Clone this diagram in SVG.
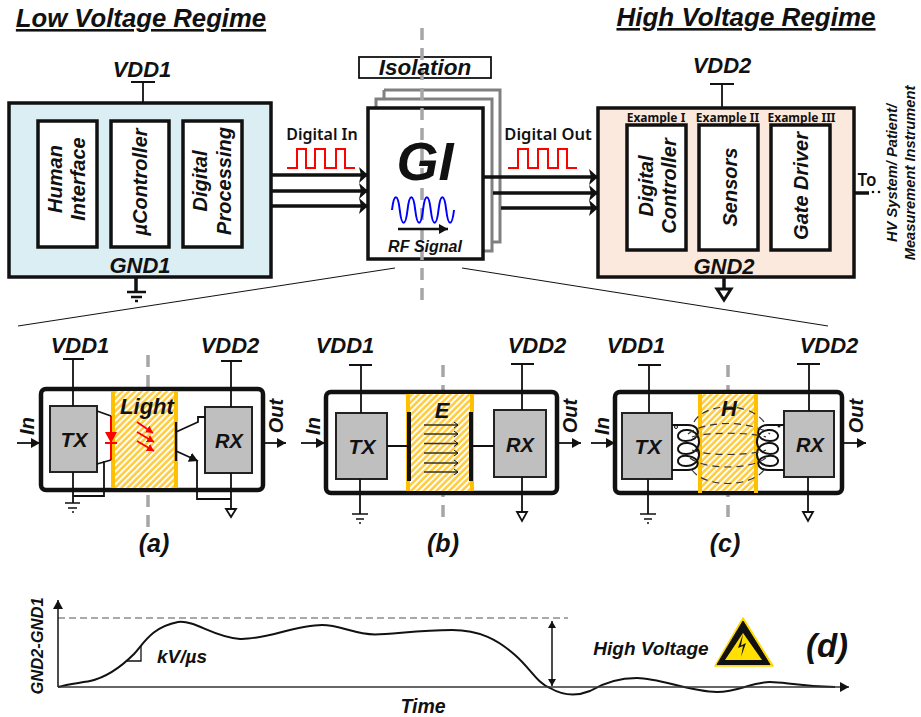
<svg xmlns="http://www.w3.org/2000/svg" width="921" height="717" viewBox="0 0 921 717">
<style>
text{font-family:"Liberation Sans",Arial,sans-serif;font-weight:700;font-style:italic;fill:#111;text-anchor:middle}
.cal{font-family:"Noto Sans","Open Sans",sans-serif;font-weight:600;font-style:normal}
.l{font-size:22px}.box{fill:#fff;stroke:#111;stroke-width:3.5}
.in{font-size:20px}.chip{fill:#bfbfbf;stroke:#222;stroke-width:2}
.mod{fill:#fff;stroke:#111;stroke-width:4.5}
.w{fill:none;stroke:#111;stroke-width:1.8}.t{fill:none;stroke:#111;stroke-width:3.5}
.g{fill:none;stroke:#808080;stroke-width:3}
.d{fill:none;stroke:#a6a6a6;stroke-width:3.5;stroke-dasharray:12 8}
.p{fill:none;stroke:#f00;stroke-width:2}
.o{fill:#fff;stroke:#111;stroke-width:1.8}
.ex{font-size:12px;font-weight:700}
.h{fill:none;stroke:#ffc000;stroke-width:4}
.e{fill:none;stroke:#332;stroke-width:1.300;marker-end:url(#open)}
.ra{fill:none;stroke:#f00;stroke-width:1.800;marker-end:url(#red)}
</style>
<defs>
<pattern id="hatch" width="4.500" height="4.500" patternUnits="userSpaceOnUse" patternTransform="rotate(-45)">
<rect width="4.500" height="4.500" fill="#ffcb3a"/><rect width="4.500" height="2" fill="#fff"/>
</pattern>
<marker id="big" markerUnits="userSpaceOnUse" markerWidth="10" markerHeight="16" refX="9" refY="8" orient="auto"><path d="M0 0L9 8L0 16L2 8Z" fill="#111"/></marker>
<marker id="mid" markerUnits="userSpaceOnUse" markerWidth="10" markerHeight="10" refX="9" refY="5" orient="auto"><path d="M0 0L9 5L0 10Z" fill="#111"/></marker>
<marker id="sm" markerUnits="userSpaceOnUse" markerWidth="8" markerHeight="8" refX="7" refY="4" orient="auto-start-reverse"><path d="M0 0L7 4L0 8Z" fill="#111"/></marker>
<marker id="red" markerUnits="userSpaceOnUse" markerWidth="8" markerHeight="8" refX="7" refY="4" orient="auto"><path d="M0 0L7 4L0 8Z" fill="#f00"/></marker>
<marker id="open" markerUnits="userSpaceOnUse" markerWidth="6" markerHeight="8" refX="5" refY="4" orient="auto"><path d="M1 1L5 4L1 7" fill="none" stroke="#111" stroke-width="1"/></marker>
<path id="coil" d="M672 425H688C702 425 701 441 686 441C674 441 676 429 688 430C704 432 702 454 686 454C674 454 676 442 688 443C704 445 702 466 686 466C674 466 676 454 688 456C702 458 700 470 688 470H672" fill="none" stroke="#111" stroke-width="2"/>
</defs>
<rect width="921" height="717" fill="#fff"/>

<g id="titles">
<text x="141" y="27" font-size="25.700" text-decoration="underline">Low Voltage Regime</text>
<text x="746" y="26" font-size="26" text-decoration="underline">High Voltage Regime</text>
</g>

<g id="low-voltage">
<rect x="9" y="103" width="262" height="174" fill="#daeef3" stroke="#111" stroke-width="3.5"/>
<text class="l" x="142" y="77">VDD1</text>
<text class="l" x="140" y="273">GND1</text>
<g id="human-interface"><rect class="box" x="38" y="121" width="59" height="126"/>
<text class="in" transform="translate(62 179) rotate(-90)">Human</text><text class="in" transform="translate(85 179) rotate(-90)">Interface</text></g>
<g id="ucontroller"><rect class="box" x="111" y="121" width="58" height="126"/>
<text class="in" transform="translate(147 182) rotate(-90)">µController</text></g>
<g id="digital-processing"><rect class="box" x="183" y="121" width="59" height="126"/>
<text class="in" transform="translate(207 181) rotate(-90)">Digital</text><text class="in" transform="translate(231 181) rotate(-90)">Processing</text></g>
</g>

<g id="gi">
<path class="g" d="M384 90H500V242H492M384 90V99"/>
<path class="g" d="M376 108V99H492V251H483"/>
<rect x="359" y="57" width="132" height="21" fill="#fff" stroke="#111" stroke-width="1.8"/>
<rect x="368" y="108" width="115" height="151" fill="#fff" stroke="#111" stroke-width="3.5"/>
<path class="d" d="M422 28V305"/>
<text x="425" y="75" font-size="22.500">Isolation</text>
<text x="425" y="180" font-size="54">GI</text>
<path d="M392 210C394 193 397.750 193 399.750 210S405.500 227 407.500 210S413.250 193 415.250 210S421 227 423 210S428.750 193 430.750 210S436.500 227 438.500 210S444.250 193 446.250 210S452 227 454 210" fill="none" stroke="#00f" stroke-width="2"/>
<text x="425" y="252" font-size="16">RF Signal</text>
</g>

<g id="high-voltage">
<rect x="598" y="108" width="256" height="169" fill="#fbe9dd" stroke="#111" stroke-width="3.5"/>
<text class="l" x="722" y="73">VDD2</text>
<text class="l" x="724" y="274">GND2</text>
<text class="cal ex" x="656" y="122">Example I</text>
<text class="cal ex" x="727.500" y="122">Example II</text>
<text class="cal ex" x="801.500" y="122">Example III</text>
<g id="digital-controller"><rect class="box" x="627" y="125" width="59" height="125"/>
<text class="in" transform="translate(653 186) rotate(-90)">Digital</text><text class="in" transform="translate(676 186) rotate(-90)">Controller</text></g>
<g id="sensors"><rect class="box" x="699" y="125" width="59" height="125"/>
<text class="in" transform="translate(737 187) rotate(-90)">Sensors</text></g>
<g id="gate-driver"><rect class="box" x="771" y="125" width="59" height="125"/>
<text class="in" transform="translate(808 186) rotate(-90)">Gate Driver</text></g>
<text class="cal" x="867" y="186" font-size="17">To</text>
<circle cx="873" cy="192" r="1.300" fill="#111"/><circle cx="879" cy="192" r="1.300" fill="#111"/>
<text font-size="14.700" transform="translate(897 173) rotate(-90)">HV System/ Patient/</text>
<text font-size="14.700" transform="translate(915 173) rotate(-90)">Measurement Instrument</text>
</g>

<g id="signal-labels">
<text class="cal" x="322" y="140" font-size="16">Digital In</text>
<text class="cal" x="548" y="140" font-size="16.500">Digital Out</text>
<path class="p" d="M287 168H297V149H306V168H315V149H325V168H336V149H345V168H355"/>
<path class="p" d="M508 168H518V149H528V168H538V149H548V168H558V149H567V168H577"/>
</g>

<g id="module-a">
<path class="d" d="M148 355V530"/>
<rect class="mod" x="41" y="389" width="222" height="101" rx="5"/>
<rect x="113" y="391" width="63" height="97" fill="url(#hatch)"/>
<path class="h" d="M113 391V488M176 391V488"/>
<rect class="chip" x="50" y="406" width="47" height="66"/>
<rect class="chip" x="205" y="407" width="47" height="66"/>
<text x="74" y="447" font-size="21">TX</text>
<text x="229" y="448" font-size="20">RX</text>
<text class="l" x="147" y="414">Light</text>
<text class="in" transform="translate(34 426) rotate(-90)">In</text>
<text class="in" transform="translate(283 416) rotate(-90)">Out</text>
<text x="80" y="353" class="l">VDD1</text>
<text x="230" y="353" class="l">VDD2</text>
<text x="154" y="552" font-size="25">(a)</text>
<path d="M111 416V460" stroke="#f00" stroke-width="2" fill="none"/>
<path d="M105 432H117L111 443Z" fill="#f00"/>
<path d="M105 443H117" stroke="#f00" stroke-width="2"/>
<path class="ra" d="M137 422L153 433"/>
<path class="ra" d="M137 432L154 442"/>
<path class="ra" d="M137 441L154 451"/>
<path d="M176 422V461" stroke="#111" stroke-width="2.200"/>
</g>

<g id="module-b">
<path class="d" d="M443 365V520"/>
<rect class="mod" x="326" y="392" width="231" height="101" rx="5"/>
<rect x="408" y="394" width="64" height="97" fill="url(#hatch)"/>
<path class="h" d="M408 394V491M472 394V491"/>
<rect class="chip" x="336" y="413" width="51" height="66"/>
<rect class="chip" x="494" y="410" width="52" height="67"/>
<text x="362" y="454" font-size="21">TX</text>
<text x="520" y="452" font-size="20">RX</text>
<text class="l" x="442" y="418">E</text>
<text class="in" transform="translate(320 426) rotate(-90)">In</text>
<text class="in" transform="translate(577 416) rotate(-90)">Out</text>
<text x="345" y="353" class="l">VDD1</text>
<text x="537" y="353" class="l">VDD2</text>
<text x="443" y="552" font-size="25">(b)</text>
<path d="M409 412V481M471 412V481" stroke="#111" stroke-width="4" fill="none"/>
<path class="e" d="M424 425H458"/><path class="e" d="M424 434H458"/><path class="e" d="M424 443.500H458"/><path class="e" d="M424 453H458"/><path class="e" d="M424 463H458"/><path class="e" d="M424 472H458"/>
</g>

<g id="module-c">
<path class="d" d="M728 365V520"/>
<rect class="mod" x="615" y="392" width="227" height="101" rx="5"/>
<rect x="700" y="394" width="56" height="97" fill="url(#hatch)"/>
<path class="h" d="M700 394V493M756 394V493"/>
<rect class="chip" x="622" y="413" width="50" height="66"/>
<rect class="chip" x="784" y="411" width="50" height="66"/>
<text x="648" y="454" font-size="21">TX</text>
<text x="810" y="452" font-size="20">RX</text>
<text class="l" x="729" y="416">H</text>
<text class="in" transform="translate(609 426) rotate(-90)">In</text>
<text class="in" transform="translate(863 416) rotate(-90)">Out</text>
<text x="636" y="353" class="l">VDD1</text>
<text x="829" y="353" class="l">VDD2</text>
<text x="725" y="552" font-size="25">(c)</text>
<use href="#coil"/>
<use href="#coil" transform="translate(1456 0) scale(-1 1)"/>
<circle cx="676" cy="427" r="1.500" fill="none" stroke="#111"/>
<circle cx="779" cy="426" r="1.500" fill="#111"/>
<path d="M694 422C705 402 750 402 764 422M692 470C705 488 750 488 764 470M688 434C705 420 750 420 770 434M692 437C705 432 750 432 766 437M692 450C705 456 750 456 766 450M690 458C705 470 750 470 766 458" fill="none" stroke="#333" stroke-width="1.200" stroke-dasharray="7 5"/>
</g>

<g id="chart-d">
<path d="M58 618H568" stroke="#555" stroke-width="1.200" stroke-dasharray="7 4" fill="none"/>
<path d="M58 687C68 684 80 683 90 681C108 677 122 666 134 654C144 643 152 627 178 622C196 620 212 637 240 639C264 640 296 625 322 625C340 625 354 634 375 634.500C395 634 420 630 452 630C480 630 498 640 515 655C530 668 538 684 550 688C562 695 575 697 590 691C605 682 620 678 637 678C660 678 690 692 717 692C738 692 752 682 770 682C785 682 795 686 835 687" fill="none" stroke="#111" stroke-width="2"/>
<path d="M127 661H141V646" fill="none" stroke="#111" stroke-width="1.300"/>
<path d="M552 621V686" stroke="#111" stroke-width="1.500" marker-start="url(#sm)" marker-end="url(#sm)" fill="none"/>
<text font-size="16.500" transform="translate(43 646) rotate(-90)">GND2-GND1</text>
<text x="182" y="663" font-size="19">kV/µs</text>
<text x="423" y="713" font-size="19.500">Time</text>
<text x="651" y="655" font-size="19">High Voltage</text>
<text x="827" y="657" font-size="33">(d)</text>
<g id="warning">
<path d="M743 618L773 666H715Z" fill="#ffd800" stroke="#ffd800" stroke-width="1.500" stroke-linejoin="round"/>
<path d="M743 621L770 664.500H717Z" fill="#111" stroke="#111" stroke-width="1" stroke-linejoin="round"/>
<path d="M743 633L762 660H725Z" fill="#ffe000"/>
<path d="M743 634L738 648L743 646L741 657L746 643L741 645.500Z" fill="#111"/>
</g>
</g>

<g id="connectors" fill="none">
<path class="t" marker-end="url(#big)" d="M272 175H368"/>
<path class="t" marker-end="url(#big)" d="M272 191H368"/>
<path class="t" marker-end="url(#big)" d="M272 206H368"/>
<path class="t" marker-end="url(#big)" d="M483 177H598"/>
<path class="t" marker-end="url(#big)" d="M493 193H598"/>
<path class="t" marker-end="url(#big)" d="M501 208H598"/>
<path d="M398 229H448" stroke="#111" stroke-width="2.500" marker-end="url(#mid)"/>
<path class="w" d="M131 82H155M143 82V103"/>
<path class="w" d="M710 84H734M722 84V108"/>
<path class="t" d="M136 277V292"/>
<path d="M127 292H146M131 297H142" stroke="#111" stroke-width="2.500"/>
<path d="M135 301H138" stroke="#111" stroke-width="2.500"/>
<path class="t" d="M724 277V290"/>
<path d="M717 289H731L724 300Z" fill="#fff" stroke="#111" stroke-width="3"/>
<path class="t" d="M854 193H869"/>
<path d="M395 268L18 326M462 268L828 326" stroke="#111" stroke-width="1"/>
<path class="w" d="M63 359H84M73 359V406"/>
<path class="w" d="M221 361H242M231 361V407"/>
<path class="w" marker-end="url(#mid)" d="M17 443H40"/>
<path class="w" marker-end="url(#mid)" d="M264 443H286"/>
<path class="w" d="M97 411L111 416M97 464L111 460M104 461V496H73M73 472V503"/>
<path d="M65 503H80M68 508H77M72 512H74" stroke="#111" stroke-width="1.500"/>
<path class="w" d="M176 432L198 422V417H205"/>
<path class="w" marker-end="url(#mid)" d="M176 451L198 461"/>
<path class="w" d="M197 460V499H231M231 473V509"/>
<path class="o" d="M226 509H236L231 517Z"/>
<path class="w" d="M349 365H372M361 365V413"/>
<path class="w" d="M511 364H534M522 364V410"/>
<path class="w" marker-end="url(#mid)" d="M301 443H325"/>
<path class="w" marker-end="url(#mid)" d="M558 443H581"/>
<path class="w" d="M387 446H409M471 446H494"/>
<path class="w" d="M360 479V514M522 477V512"/>
<path d="M352 514H368M356 519H364M359 523H361" stroke="#111" stroke-width="1.500"/>
<path class="o" d="M517 512H527L522 521Z"/>
<path class="w" d="M638 365H661M649 365V413"/>
<path class="w" d="M797 364H820M809 364V411"/>
<path class="w" marker-end="url(#mid)" d="M591 443H615"/>
<path class="w" marker-end="url(#mid)" d="M843 443H866"/>
<path class="w" d="M648 479V514M808 477V512"/>
<path d="M640 514H656M644 519H652M647 523H649" stroke="#111" stroke-width="1.500"/>
<path class="o" d="M803 512H813L808 521Z"/>
<path d="M58 687V600" stroke="#111" stroke-width="1.500" marker-end="url(#mid)"/>
<path d="M58 687H849" stroke="#333" stroke-width="1.500" marker-end="url(#mid)"/>
</g>
</svg>
